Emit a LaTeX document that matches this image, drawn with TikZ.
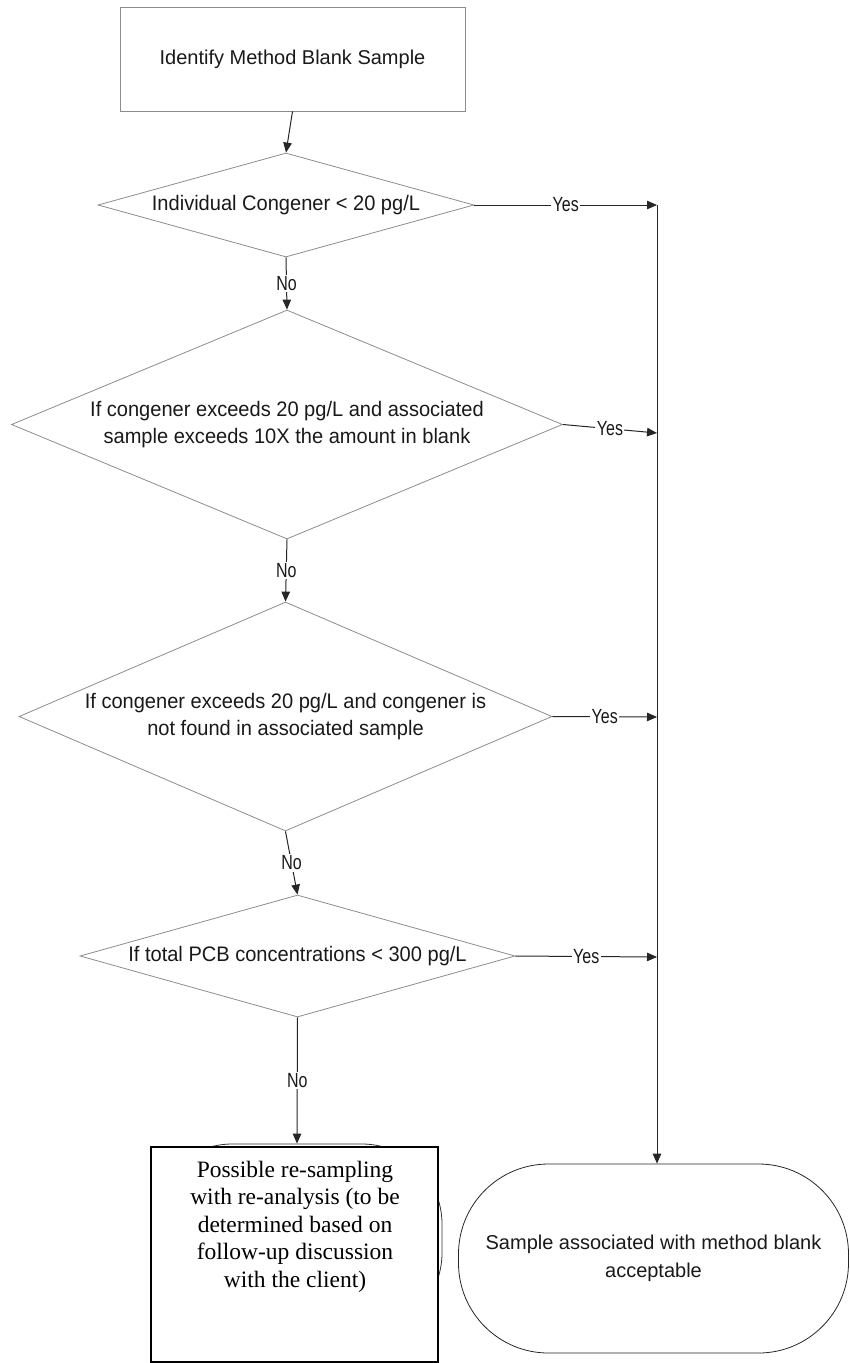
\documentclass[tikz,border=0pt]{standalone}
\usepackage{fontspec}
\setmainfont{Liberation Sans}
\newfontfamily\serifnt{Liberation Serif}
\newfontfamily\diafont[FakeStretch=0.955]{Liberation Sans}
\newfontfamily\labfont[FakeStretch=0.78]{Liberation Sans}
\usetikzlibrary{shapes.geometric,arrows.meta}
\begin{document}
\begin{tikzpicture}[x=1pt,y=-1pt,
  txt/.style={font=\fontsize{20}{27.5}\selectfont, text=black!90, align=center, inner sep=0pt},
  diatxt/.style={font=\diafont\fontsize{21}{27.5}\selectfont, text=black!90, align=center, inner sep=0pt},
  dia/.style={draw=black!45, line width=0.8pt, shape=diamond, inner sep=0pt},
  boxgray/.style={draw=black!45, line width=0.8pt, inner sep=0pt},
  conn/.style={draw=black!85, line width=1pt},
  arr/.style={conn, -{Triangle[length=10pt,width=8.5pt]}},
  lab/.style={font=\labfont\fontsize{20.5}{22}\selectfont, text=black!90, fill=white, inner sep=1.5pt},
  serifbox/.style={font=\serifnt\fontsize{23.5}{27.5}\selectfont, text=black, align=center, inner sep=0pt}]
\useasboundingbox (0,0) rectangle (849,1363);

% top box
\node[boxgray, txt, minimum width=345pt, minimum height=104pt] (start) at (292.5,59) {Identify Method Blank Sample};

% diamonds
\node[dia, minimum width=376pt, minimum height=104pt] (d1) at (286,205) {};
\node[diatxt] (d1t) at (d1) {Individual Congener < 20 pg/L};

\node[dia, minimum width=551pt, minimum height=229pt] (d2) at (287,424.5) {};
\node[diatxt] (d2t) at (d2) {If congener exceeds 20 pg/L and associated\\sample exceeds 10X the amount in blank};

\node[dia, minimum width=533pt, minimum height=229pt] (d3) at (285.5,716.5) {};
\node[diatxt] (d3t) at (d3) {If congener exceeds 20 pg/L and congener is\\not found in associated sample};

\node[dia, minimum width=435pt, minimum height=122pt] (d4) at (297.5,956) {};
\node[diatxt] (d4t) at (d4) {If total PCB concentrations < 300 pg/L};

% hidden terminator behind the front box
\node[draw=black!80, line width=0.8pt, rounded corners=80pt, minimum width=290pt, minimum height=189pt] (hid) at (297,1238.5) {};
% front box
\node[draw=black, line width=1.6pt, fill=white, minimum width=287pt, minimum height=215pt, inner sep=0pt] (endL) at (294.5,1254.5) {};
\node[serifbox] (endLt) at (295,1226.5) {Possible re-sampling\\with re-analysis (to be\\determined based on\\follow-up discussion\\with the client)};

% right terminator
\node[draw=black!85, line width=0.8pt, rounded corners=90pt, minimum width=390pt, minimum height=189pt, txt] (endR) at (653.5,1258.5) {Sample associated with method blank\\acceptable};

% coordinates on the collector line
\coordinate (v1) at (657,205);
\coordinate (v2) at (657,433);
\coordinate (v3) at (657,717);
\coordinate (v4) at (657,957);

% connectors
\draw[arr] (start.south) -- (d1.north);
\draw[arr] (d1.south) -- node[lab] (n1) {No} (d2.north);
\draw[arr] (d2.south) -- node[lab] (n2) {No} (d3.north);
\draw[arr] (d3.south) -- node[lab] (n3) {No} (d4.north);
\draw[arr] (d4.south) -- node[lab] (n4) {No} (hid.north);

\draw[arr] (d1.east) -- node[lab] (y1) {Yes} (v1);
\draw[arr] (d2.east) -- node[lab] (y2) {Yes} (v2);
\draw[arr] (d3.east) -- node[lab] (y3) {Yes} (v3);
\draw[arr] (d4.east) -- node[lab] (y4) {Yes} (v4);
\draw[arr] (v1) -- (v1 |- endR.north);
\end{tikzpicture}
\end{document}
